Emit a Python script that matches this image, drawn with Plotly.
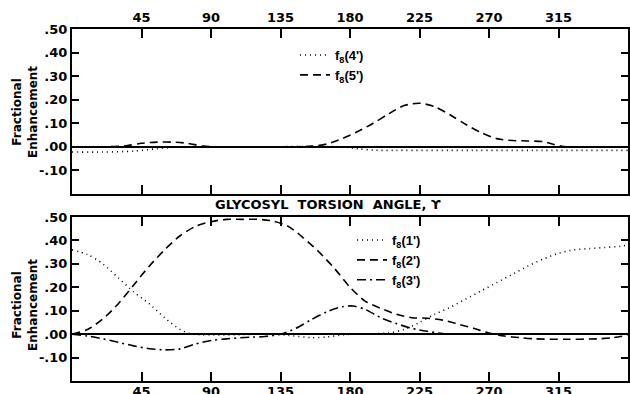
import plotly.graph_objects as go

W, H = 630, 394

# ---- top panel data ----
top_f4_x = [0, 20, 40, 55, 65, 80, 120, 175, 185, 195, 210, 260, 300, 360]
top_f4_y = [-0.022, -0.022, -0.018, -0.008, -0.002, 0.0, 0.0, 0.0, -0.008, -0.014, -0.015, -0.015, -0.015, -0.015]

top_f5_x = [0, 20, 35, 45, 55, 65, 75, 85, 100, 140, 155, 165, 175, 185, 195, 205, 215, 225, 235, 245, 255, 265, 275, 285, 295, 305, 312, 320, 340, 360]
top_f5_y = [0, 0, 0.005, 0.015, 0.02, 0.02, 0.015, 0.003, 0, 0, 0.003, 0.012, 0.035, 0.065, 0.1, 0.14, 0.175, 0.185, 0.17, 0.135, 0.095, 0.06, 0.035, 0.027, 0.025, 0.022, 0.01, 0, 0, 0]

# ---- bottom panel data ----
bot_f1_x = [0, 10, 20, 30, 40, 50, 60, 70, 78, 130, 140, 155, 165, 175, 185, 205, 215, 225, 235, 245, 255, 265, 275, 285, 295, 305, 315, 325, 335, 345, 355, 360]
bot_f1_y = [0.36, 0.34, 0.30, 0.24, 0.18, 0.13, 0.07, 0.02, 0.0, 0.0, -0.005, -0.015, -0.012, -0.003, 0.0, 0.005, 0.02, 0.05, 0.085, 0.115, 0.15, 0.185, 0.22, 0.255, 0.29, 0.32, 0.345, 0.36, 0.365, 0.37, 0.375, 0.38]

bot_f2_x = [0, 10, 20, 30, 40, 50, 60, 70, 80, 90, 100, 110, 120, 130, 140, 150, 160, 170, 180, 190, 200, 210, 220, 230, 240, 250, 260, 270, 280, 290, 300, 320, 340, 350, 360]
bot_f2_y = [0, 0.02, 0.065, 0.13, 0.21, 0.29, 0.36, 0.42, 0.46, 0.48, 0.49, 0.49, 0.49, 0.483, 0.46, 0.41, 0.35, 0.28, 0.2, 0.14, 0.11, 0.085, 0.07, 0.068, 0.06, 0.043, 0.025, 0.005, -0.008, -0.015, -0.02, -0.022, -0.02, -0.015, -0.005]

bot_f3_x = [0, 10, 20, 30, 40, 50, 60, 70, 80, 90, 100, 115, 125, 135, 145, 155, 165, 175, 182, 190, 200, 210, 220, 230, 240, 250, 300, 360]
bot_f3_y = [0, -0.008, -0.02, -0.035, -0.05, -0.062, -0.067, -0.063, -0.042, -0.027, -0.02, -0.013, -0.01, 0, 0.025, 0.062, 0.095, 0.117, 0.12, 0.105, 0.07, 0.045, 0.025, 0.012, 0.003, 0, 0, 0]

x_ticks = [45, 90, 135, 180, 225, 270, 315]
y_tickvals = [0.5, 0.4, 0.3, 0.2, 0.1, 0.0, -0.1]
y_ticktext = [".50", ".40", ".30", ".20", ".10", ".00", "-.10"]

FONT = "DejaVu Sans"
LFONT = "Liberation Sans"
LW = 1.6

fig = go.Figure()

def add(x, y, name, dash, xa, ya, legend):
    fig.add_trace(go.Scatter(x=x, y=y, mode="lines", name=name,
                             line=dict(color="black", width=LW, dash=dash, shape="spline", smoothing=0.8),
                             xaxis=xa, yaxis=ya, legend=legend))

add(top_f4_x, top_f4_y, "f<sub>8</sub>(4')", "1px,4px", "x", "y", "legend")
add(top_f5_x, top_f5_y, "f<sub>8</sub>(5')", "8px,5px", "x", "y", "legend")
add(bot_f1_x, bot_f1_y, "f<sub>8</sub>(1')", "1px,4px", "x2", "y2", "legend2")
add(bot_f2_x, bot_f2_y, "f<sub>8</sub>(2')", "8px,5px", "x2", "y2", "legend2")
add(bot_f3_x, bot_f3_y, "f<sub>8</sub>(3')", "9px,4px,2px,4px", "x2", "y2", "legend2")

L, R = 72, 628
PW = R - L
top_dom = [1 - 194 / H, 1 - 29 / H]
bot_dom = [1 - 381 / H, 1 - 217 / H]

tickfont = dict(family=FONT, size=13, color="black", weight="bold")

xcommon = dict(range=[0, 360], tickvals=x_ticks, ticks="inside", ticklen=9, tickwidth=1.5,
               tickcolor="black", showline=True, linecolor="black", linewidth=2, mirror="ticks",
               showgrid=False, zeroline=False, tickfont=tickfont, automargin=False)
ycommon = dict(range=[-0.2, 0.5], tickvals=y_tickvals, ticktext=y_ticktext, ticks="inside", ticklen=7,
               tickwidth=1.5, tickcolor="black", showline=True, linecolor="black", linewidth=2,
               mirror="ticks", showgrid=False, zeroline=True, zerolinecolor="black", zerolinewidth=2,
               tickfont=tickfont, automargin=False)

legfont = dict(family=LFONT, size=13, color="black", weight="bold")

fig.update_layout(
    width=W, height=H, paper_bgcolor="white", plot_bgcolor="white",
    margin=dict(l=L, r=W - R, t=0, b=0),
    xaxis=dict(domain=[0, 1], anchor="y", side="top", **xcommon),
    yaxis=dict(domain=top_dom, anchor="x", **ycommon),
    xaxis2=dict(domain=[0, 1], anchor="y2", side="bottom", ticklabelstandoff=-3, **xcommon),
    yaxis2=dict(domain=bot_dom, anchor="x2", **ycommon),
    legend=dict(x=(295 - L) / PW, y=1 - 40 / H, xanchor="left", yanchor="top",
                bgcolor="rgba(0,0,0,0)", itemwidth=30, font=legfont, tracegroupgap=0),
    legend2=dict(x=(352 - L) / PW, y=1 - 225 / H, xanchor="left", yanchor="top",
                 bgcolor="rgba(0,0,0,0)", itemwidth=30, font=legfont, tracegroupgap=0),
    showlegend=True,
)

# central axis title
fig.add_annotation(text="GLYCOSYL  TORSION  ANGLE, ϒ", x=(328 - L) / PW, y=1 - 205 / H,
                   xref="paper", yref="paper", showarrow=False, xanchor="center", yanchor="middle",
                   font=dict(family=FONT, size=13, color="black", weight="bold"))

for yc in [1 - 112 / H, 1 - 305 / H]:
    fig.add_annotation(text="Fractional<br>Enhancement", x=-(L - 25) / PW, y=yc,
                       xref="paper", yref="paper", showarrow=False, textangle=-90,
                       xanchor="center", yanchor="middle",
                       font=dict(family=FONT, size=12, color="black", weight="bold"))

fig.write_html("out.html", config={"displayModeBar": False},
               post_script="document.body.style.margin='0';document.body.style.padding='0';")
